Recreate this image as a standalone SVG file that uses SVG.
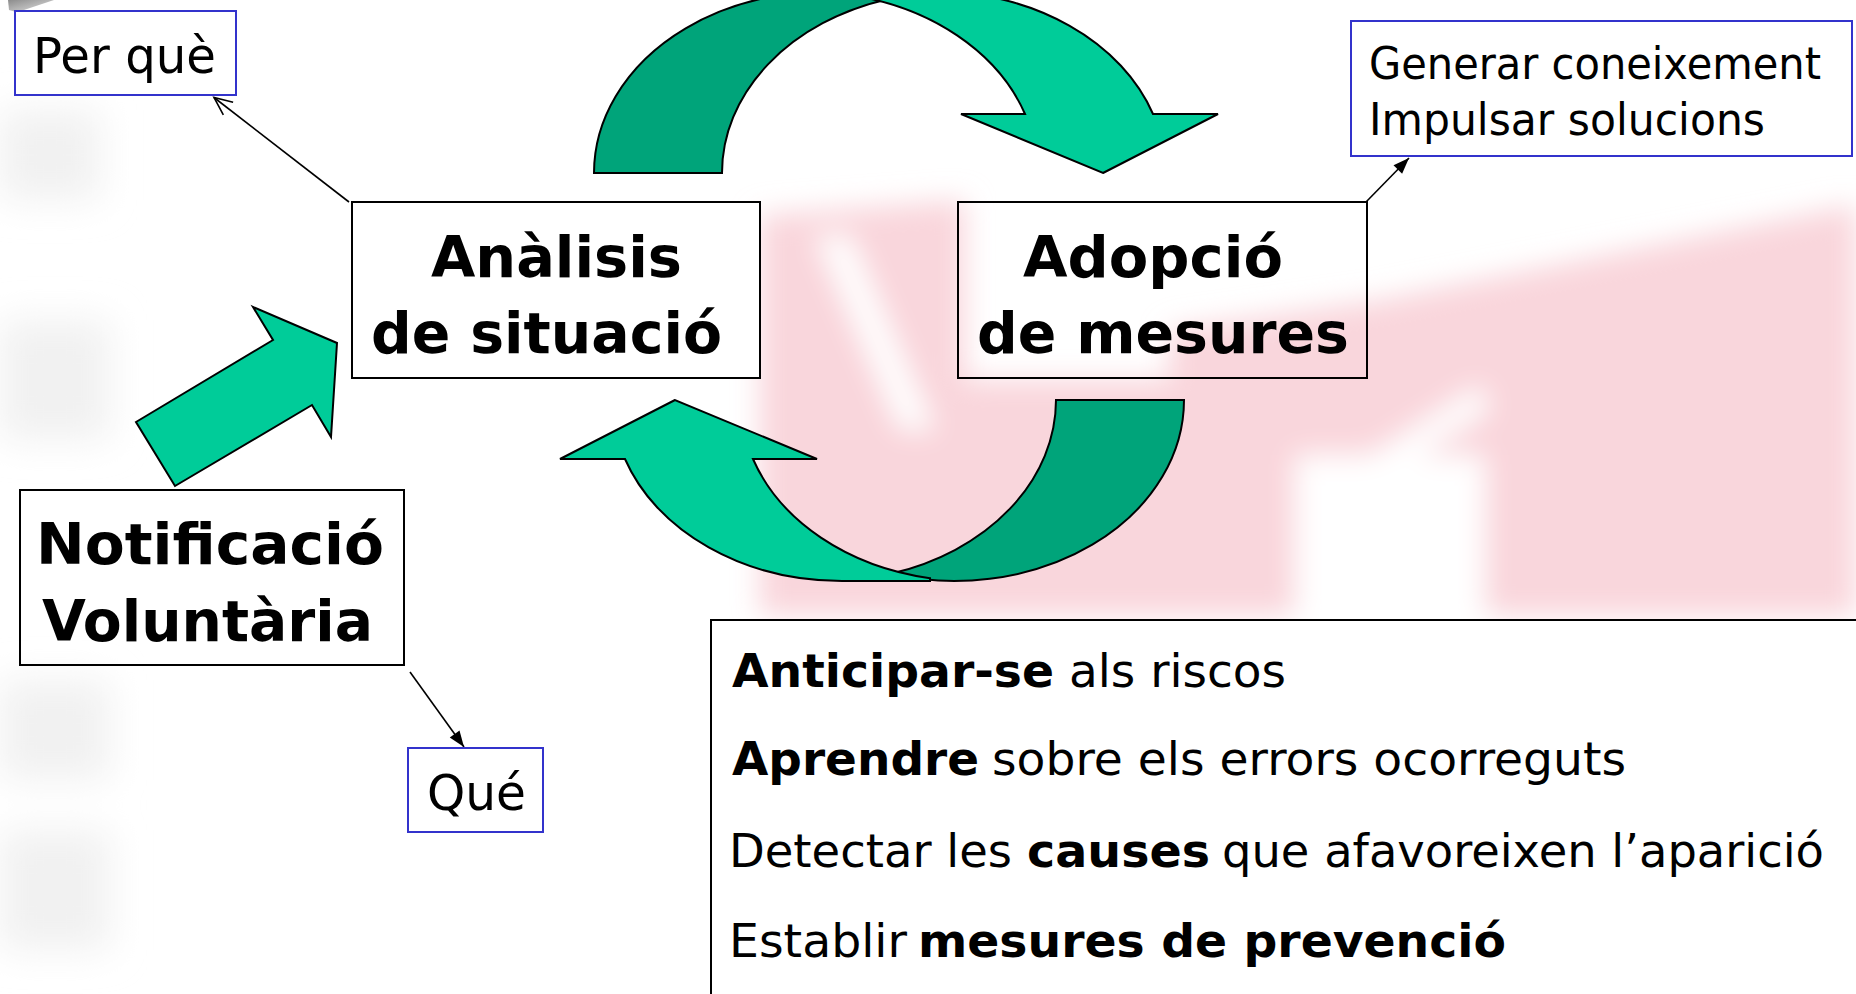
<svg xmlns="http://www.w3.org/2000/svg" width="1856" height="994" viewBox="0 0 1856 994">
  <style>
    .box { fill: none; stroke: #000; stroke-width: 2; }
    .boxw { fill: #fff; stroke: #000; stroke-width: 2; }
    .lbl { fill: #fff; stroke: #3333CC; stroke-width: 2; }
    .t { font-family: "DejaVu Sans", Verdana, sans-serif; fill: #000; }
    .big { font-size: 57px; font-weight: bold; }
    .sm { font-size: 50px; }
    .gen { font-size: 44px; }
    .ln { font-size: 46.5px; }
    .b { font-weight: bold; }
    .light { fill: #00CC99; stroke: #000; stroke-width: 2; stroke-linejoin: miter; }
    .dark { fill: #00A47A; stroke: #000; stroke-width: 2; }
    .conn { stroke: #000; stroke-width: 1.6; fill: none; }
  </style>
  <defs>
    <filter id="blur" x="-20%" y="-20%" width="140%" height="140%">
      <feGaussianBlur stdDeviation="14"/>
    </filter>
    <filter id="blur2" x="-50%" y="-50%" width="200%" height="200%">
      <feGaussianBlur stdDeviation="18"/>
    </filter>
    <linearGradient id="corner" x1="0" y1="0" x2="1" y2="1">
      <stop offset="0" stop-color="#8c8c8c"/>
      <stop offset="1" stop-color="#e4e4e4"/>
    </linearGradient>
    <marker id="solidArrow" markerUnits="userSpaceOnUse" markerWidth="18" markerHeight="14" refX="16" refY="6" orient="auto" overflow="visible">
      <path d="M0,0 L16,6 L0,12 Z" fill="#000"/>
    </marker>
    <marker id="openArrow" markerUnits="userSpaceOnUse" markerWidth="20" markerHeight="18" refX="18" refY="8" orient="auto" overflow="visible">
      <path d="M0,0 L18,8 L0,16" fill="none" stroke="#000" stroke-width="1.6"/>
    </marker>
    <g id="curvedArrow">
      <path class="dark" d="M594,173 A229.5,181 0 0 1 887.5,-0.8 A229.5,181 0 0 0 722,173 Z"/>
      <path class="light" d="M1103,173 L1218,114 L1153,114 A229.5,181 0 0 0 936,-8 L848,-8 L848,-5.2 A229.5,181 0 0 1 1025,114 L961,114 Z"/>
    </g>
  </defs>

  <rect width="1856" height="994" fill="#fff"/>

  <g id="watermark">
    <g filter="url(#blur)">
      <g fill="#F9D6DC">
        <polygon points="760,215 965,200 965,615 760,615"/>
        <polygon points="965,380 1185,380 1185,615 965,615"/>
        <polygon points="1380,300 1856,205 1856,615 1170,615 1170,330"/>
      </g>
      <g fill="#fff">
        <polygon points="815,235 850,235 935,430 900,430"/>
        <rect x="1295" y="455" width="190" height="170"/>
        <polygon points="1300,500 1480,385 1490,410 1310,525"/>
      </g>
    </g>
    <g fill="#F1F1F1" filter="url(#blur2)">
      <rect x="0" y="110" width="100" height="90"/>
      <rect x="0" y="320" width="110" height="120"/>
      <rect x="0" y="680" width="110" height="100"/>
      <rect x="0" y="830" width="110" height="120"/>
    </g>
  </g>

  <polygon id="corner-mark" points="8,0 54,0 21,11 16,12 9,10" fill="url(#corner)"/>

  <g id="cycle-top">
    <use href="#curvedArrow"/>
  </g>
  <g id="cycle-bottom">
    <use href="#curvedArrow" transform="rotate(180 889 286.5)"/>
  </g>
  <g id="arrow-notif">
    <polygon class="light" points="136,422 273,340 253,307 337,343 331,437 312,405 175,486"/>
  </g>

  <g id="connectors">
    <line class="conn" x1="349" y1="202" x2="214" y2="97.5" marker-end="url(#openArrow)"/>
    <line class="conn" x1="1366" y1="202" x2="1409" y2="158" marker-end="url(#solidArrow)"/>
    <line class="conn" x1="410" y1="672" x2="464" y2="747" marker-end="url(#solidArrow)"/>
  </g>

  <g id="per-que">
    <rect class="lbl" x="15" y="11" width="221" height="84"/>
    <text class="t sm" x="33" y="73.3" textLength="183" lengthAdjust="spacingAndGlyphs">Per què</text>
  </g>

  <g id="generar">
    <rect class="lbl" x="1351" y="21" width="501" height="135"/>
    <text class="t gen" x="1369" y="79" textLength="452" lengthAdjust="spacingAndGlyphs">Generar coneixement</text>
    <text class="t gen" x="1369" y="135" textLength="396" lengthAdjust="spacingAndGlyphs">Impulsar solucions</text>
  </g>

  <g id="que">
    <rect class="lbl" x="408" y="748" width="135" height="84"/>
    <text class="t sm" x="427" y="810" textLength="99" lengthAdjust="spacingAndGlyphs">Qué</text>
  </g>

  <g id="analisis">
    <rect class="boxw" x="352" y="202" width="408" height="176"/>
    <text class="t big" x="431" y="276.7" textLength="251" lengthAdjust="spacingAndGlyphs">Anàlisis</text>
    <text class="t big" x="371" y="353.3" textLength="351" lengthAdjust="spacingAndGlyphs">de situació</text>
  </g>

  <g id="adopcio">
    <rect class="box" x="958" y="202" width="409" height="176"/>
    <text class="t big" x="1023" y="276.7" textLength="260" lengthAdjust="spacingAndGlyphs">Adopció</text>
    <text class="t big" x="977" y="353.3" textLength="372" lengthAdjust="spacingAndGlyphs">de mesures</text>
  </g>

  <g id="notificacio">
    <rect class="box" x="20" y="490" width="384" height="175"/>
    <text class="t big" x="36" y="564" textLength="348" lengthAdjust="spacingAndGlyphs">Notificació</text>
    <text class="t big" x="42" y="640.8" textLength="331" lengthAdjust="spacingAndGlyphs">Voluntària</text>
  </g>

  <g id="objectius">
    <rect class="boxw" x="711" y="620" width="1160" height="400"/>
    <text class="t ln b" x="732" y="687.3" textLength="322" lengthAdjust="spacingAndGlyphs">Anticipar-se</text>
    <text class="t ln" x="1069" y="687.3" textLength="217" lengthAdjust="spacingAndGlyphs">als riscos</text>
    <text class="t ln b" x="732" y="775" textLength="247" lengthAdjust="spacingAndGlyphs">Aprendre</text>
    <text class="t ln" x="992" y="775" textLength="634" lengthAdjust="spacingAndGlyphs">sobre els errors ocorreguts</text>
    <text class="t ln" x="729" y="866.7" textLength="283" lengthAdjust="spacingAndGlyphs">Detectar les</text>
    <text class="t ln b" x="1027" y="866.7" textLength="183" lengthAdjust="spacingAndGlyphs">causes</text>
    <text class="t ln" x="1222" y="866.7" textLength="602" lengthAdjust="spacingAndGlyphs">que afavoreixen l’aparició</text>
    <text class="t ln" x="729" y="956.7" textLength="178" lengthAdjust="spacingAndGlyphs">Establir</text>
    <text class="t ln b" x="918" y="956.7" textLength="588" lengthAdjust="spacingAndGlyphs">mesures de prevenció</text>
  </g>
</svg>
